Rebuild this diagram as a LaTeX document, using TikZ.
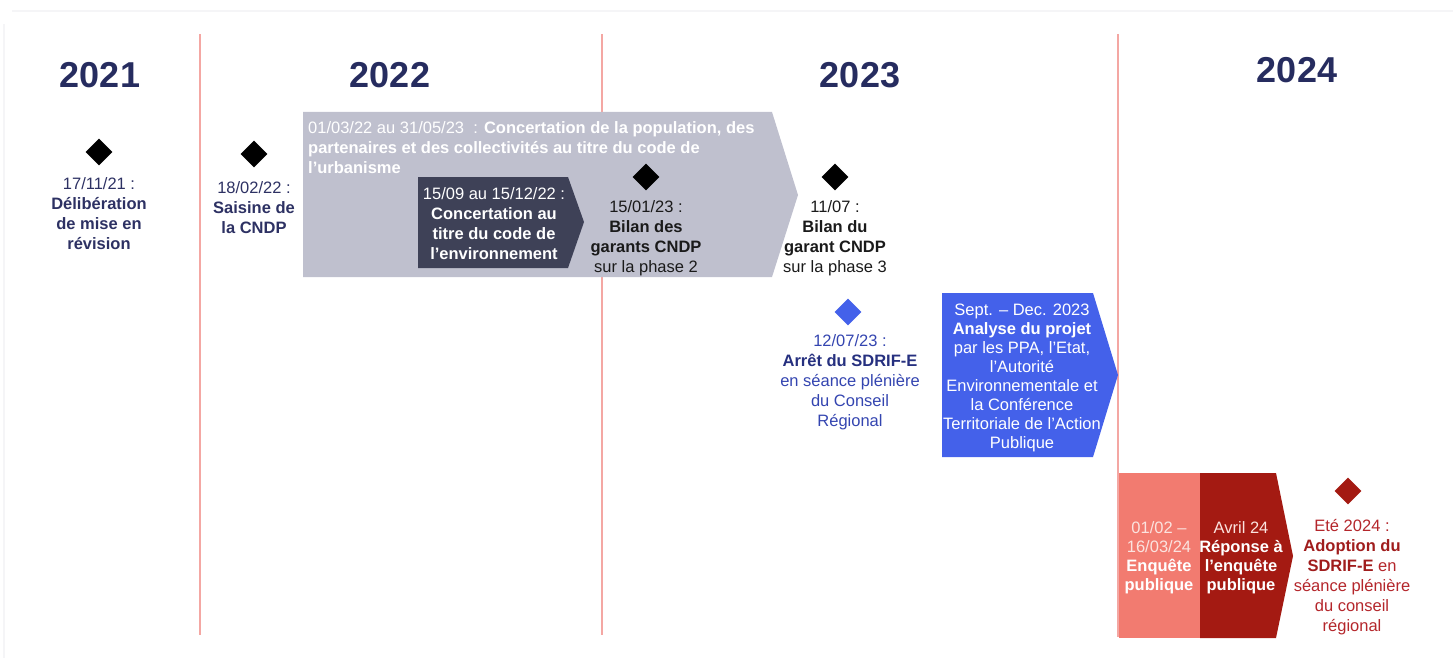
\documentclass[tikz,border=0pt]{standalone}
\usepackage{fontspec}
\setmainfont{Liberation Sans}
\usetikzlibrary{shapes.geometric}
\definecolor{yearcol}{HTML}{262C5F}
\definecolor{navytxt}{HTML}{2D3163}
\definecolor{linecol}{HTML}{F4A7A3}
\definecolor{framecol}{HTML}{F5F5F7}
\definecolor{graybox}{HTML}{BFC0CE}
\definecolor{darkbox}{HTML}{3E4157}
\definecolor{bluebox}{HTML}{4461EA}
\definecolor{bluetxt}{HTML}{3445B0}
\definecolor{bluebold}{HTML}{26307F}
\definecolor{salmon}{HTML}{F27B70}
\definecolor{darkred}{HTML}{A41A12}
\definecolor{redtxt}{HTML}{B4262B}
\definecolor{redbold}{HTML}{A01D1D}
\definecolor{blacktxt}{HTML}{1A1A1A}
\definecolor{paletxt}{HTML}{FBE3DF}
\begin{document}
\begin{tikzpicture}[x=1pt,y=-1pt,
  yearlbl/.style={font=\fontsize{36}{40}\selectfont\bfseries, text=yearcol, inner sep=0pt, anchor=base},
  yline/.style={draw=linecol, line width=2.8pt},
  mstone/.style={shape=diamond, aspect=1, inner sep=0pt, minimum width=27pt, minimum height=27pt},
  txt/.style={font=\fontsize{16.5}{20}\selectfont, inner sep=0pt, anchor=north, align=center},
  txtb/.style={font=\fontsize{16.5}{19}\selectfont, inner sep=0pt, anchor=north, align=center}
]
\useasboundingbox (0,0) rectangle (1453,658);
% faint frame
\draw[framecol, line width=1.2pt] (12,11) -- (1453,11);
\draw[framecol, line width=1.2pt] (4,24) -- (4,658);
% year separators
\coordinate (s1t) at (200,34); \coordinate (s1b) at (200,635);
\coordinate (s2t) at (602,34); \coordinate (s2b) at (602,635);
\coordinate (s3t) at (1118,34); \coordinate (s3b) at (1118,637);
\draw[yline] (s1t) -- (s1b);
\draw[yline] (s2t) -- (s2b);
\draw[yline] (s3t) -- (s3b);
% years
\node[yearlbl] (y21) at (100,88) {2021};
\node[yearlbl] (y22) at (390,88) {2022};
\node[yearlbl] (y23) at (860,88) {2023};
\node[yearlbl] (y24) at (1297,83) {2024};
% gray arrow
\fill[graybox] (303,112) -- (772,112) -- (798,195) -- (772,277) -- (303,277) -- cycle;
\node[txt, anchor=north west, align=left, text=white] (gtxt) at (308,121)
  {01/03/22 au 31/05/23~~: \textbf{Concertation de la population, des}\\
   \textbf{partenaires et des collectivités au titre du code de}\\
   \textbf{l’urbanisme}};
% dark arrow
\fill[darkbox] (418,177) -- (568,177) -- (584,222) -- (568,268) -- (418,268) -- cycle;
\node[txt, text=white] (dtxt) at (494,187)
  {15/09 au 15/12/22 :\\ \textbf{Concertation au}\\ \textbf{titre du code de}\\ \textbf{l’environnement}};
% milestones
\node[mstone, fill=black] (d1) at (99,152) {};
\node[txt, text=navytxt] (t1) at (99,177)
  {17/11/21 :\\ \textbf{Délibération}\\ \textbf{de mise en}\\ \textbf{révision}};
\node[mstone, fill=black] (d2) at (254,154) {};
\node[txt, text=navytxt] (t2) at (254,181)
  {18/02/22 :\\ \textbf{Saisine de}\\ \textbf{la CNDP}};
\node[mstone, fill=black] (d3) at (646,177) {};
\node[txt, text=blacktxt] (t3) at (646,200)
  {15/01/23 :\\ \textbf{Bilan des}\\ \textbf{garants CNDP}\\ sur la phase 2};
\node[mstone, fill=black] (d4) at (835,177) {};
\node[txt, text=blacktxt] (t4) at (835,200)
  {11/07 :\\ \textbf{Bilan du}\\ \textbf{garant CNDP}\\ sur la phase 3};
\node[mstone, fill=bluebox] (d5) at (848,312) {};
\node[txt, text=bluetxt] (t5) at (850,334)
  {12/07/23 :\\ \textcolor{bluebold}{\textbf{Arrêt du SDRIF-E}}\\ en séance plénière\\ du Conseil\\ Régional};
% blue arrow
\fill[bluebox] (942,293) -- (1093,293) -- (1118,375) -- (1093,457) -- (942,457) -- cycle;
\node[txtb, text=white] (btxt) at (1022,304)
  {Sept. – Dec. 2023\\ \textbf{Analyse du projet}\\ par les PPA, l’Etat,\\ l’Autorité\\ Environnementale et\\ la Conférence\\ Territoriale de l’Action\\ Publique};
% red boxes
\fill[salmon] (1119,473) rectangle (1200,638);
\fill[darkred] (1200,473) -- (1276,473) -- (1293,556) -- (1276,638) -- (1200,638) -- cycle;
\node[txtb, text=white] (stxt) at (1159,521)
  {\textcolor{paletxt}{01/02 –}\\ \textcolor{paletxt}{16/03/24}\\ \textbf{Enquête}\\ \textbf{publique}};
\node[txtb, text=white] (rtxt) at (1241,521)
  {\textcolor{paletxt}{Avril 24}\\ \textbf{Réponse à}\\ \textbf{l’enquête}\\ \textbf{publique}};
\node[mstone, fill=darkred] (d6) at (1348,491) {};
\node[txt, text=redtxt] (t6) at (1352,519)
  {Eté 2024 :\\ \textcolor{redbold}{\textbf{Adoption du}}\\ \textcolor{redbold}{\textbf{SDRIF-E}} en\\ séance plénière\\ du conseil\\ régional};
\end{tikzpicture}
\end{document}
